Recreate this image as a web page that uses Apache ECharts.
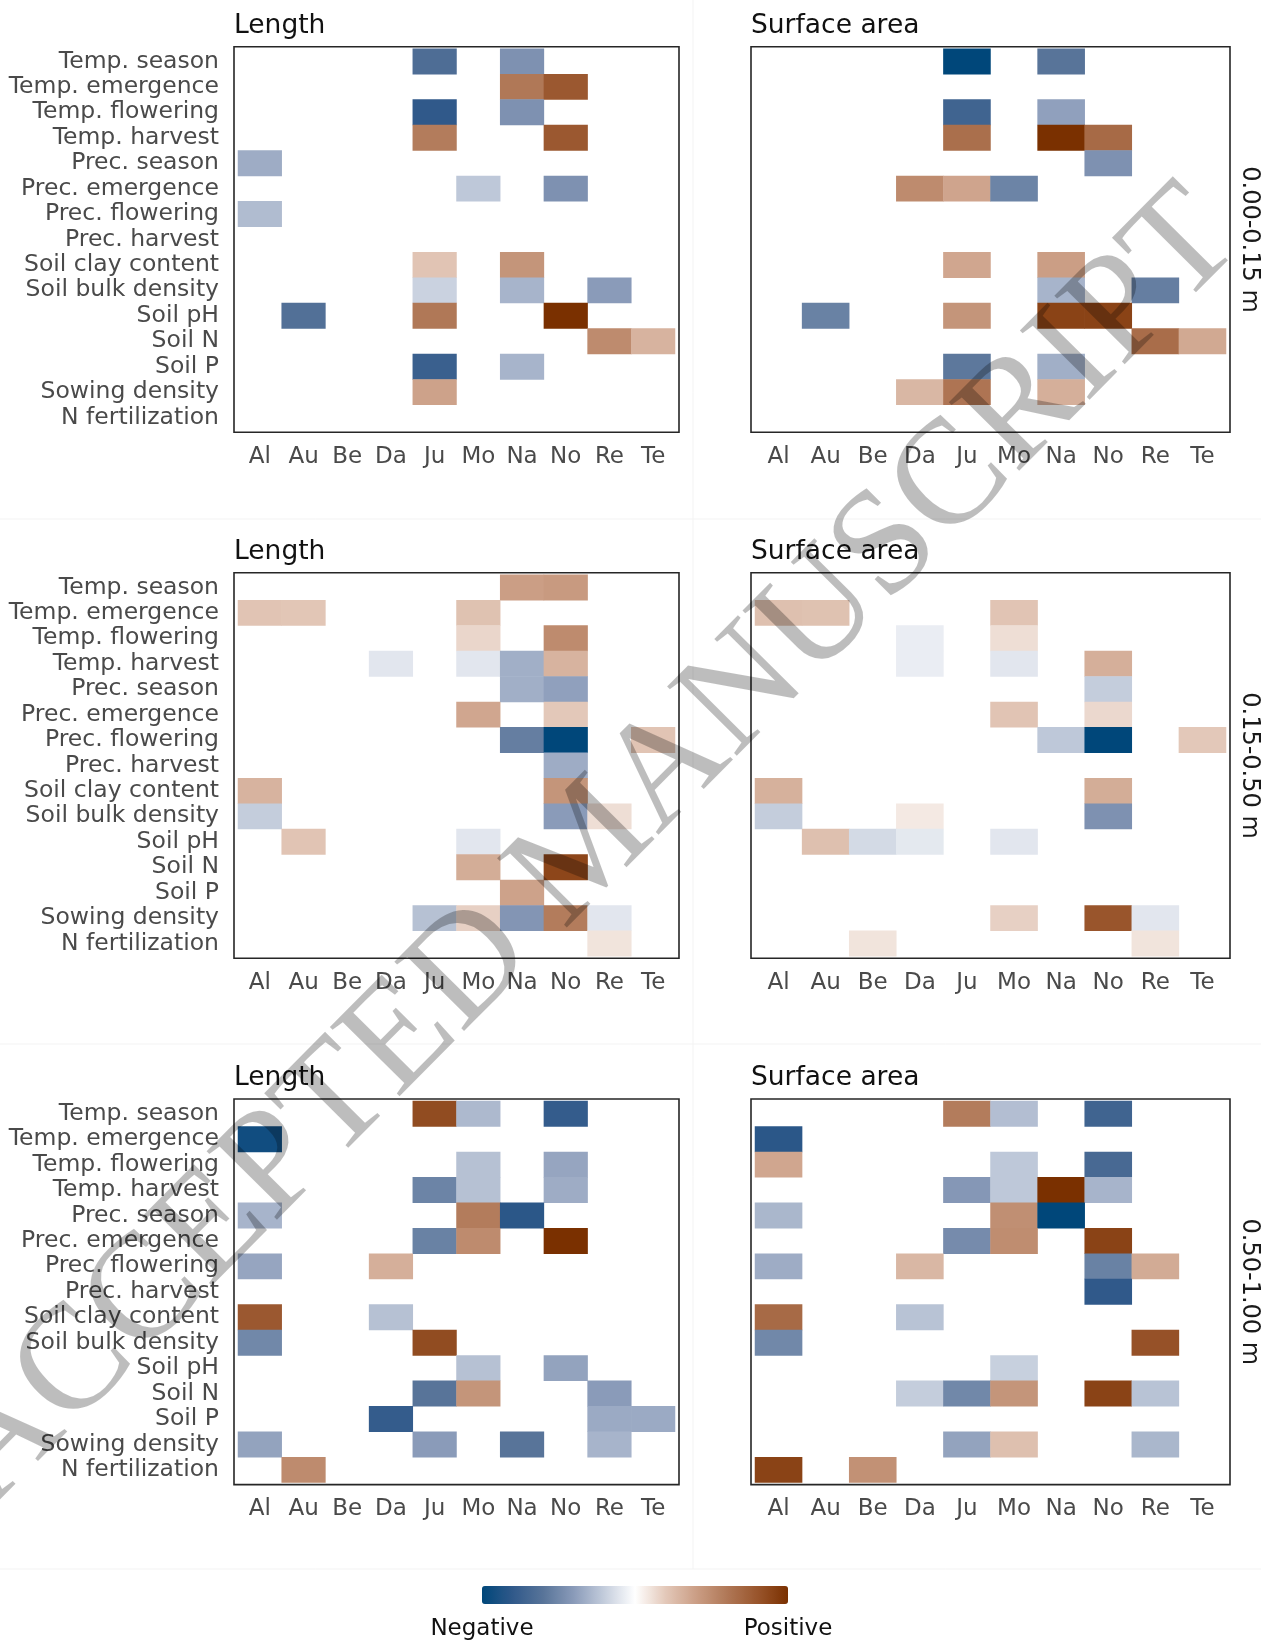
<!DOCTYPE html>
<html>
<head>
<meta charset="utf-8">
<script src="https://cdn.jsdelivr.net/npm/echarts@6/dist/echarts.min.js"></script>
<style>
  html, body { margin: 0; padding: 0; background: #ffffff; }
  #chart { width: 1261px; height: 1642px; }
</style>
</head>
<body>
<div id="chart"></div>
<script>
// Sites (columns) and predictors (rows) shared by every panel
const sites = ['Al', 'Au', 'Be', 'Da', 'Ju', 'Mo', 'Na', 'No', 'Re', 'Te'];
const predictors = [
  'Temp. season', 'Temp. emergence', 'Temp. flowering', 'Temp. harvest',
  'Prec. season', 'Prec. emergence', 'Prec. flowering', 'Prec. harvest',
  'Soil clay content', 'Soil bulk density', 'Soil pH', 'Soil N', 'Soil P',
  'Sowing density', 'N fertilization'
];
const traits = ['Length', 'Surface area'];
const depths = ['0.00-0.15 m', '0.15-0.50 m', '0.50-1.00 m'];
const legendLabels = ['Negative', 'Positive'];

// Standardised effects, [predictor, site, effect]; empty cells are omitted
const lengthTop = [
  ['Temp. season', 'Ju', -0.65], ['Temp. season', 'Na', -0.45],
  ['Temp. emergence', 'Na', 0.6], ['Temp. emergence', 'No', 0.78],
  ['Temp. flowering', 'Ju', -0.8], ['Temp. flowering', 'Na', -0.45],
  ['Temp. harvest', 'Ju', 0.58], ['Temp. harvest', 'No', 0.78],
  ['Prec. season', 'Al', -0.33],
  ['Prec. emergence', 'Mo', -0.22], ['Prec. emergence', 'No', -0.45],
  ['Prec. flowering', 'Al', -0.27],
  ['Soil clay content', 'Ju', 0.22], ['Soil clay content', 'Na', 0.45],
  ['Soil bulk density', 'Ju', -0.18], ['Soil bulk density', 'Na', -0.3], ['Soil bulk density', 'Re', -0.4],
  ['Soil pH', 'Au', -0.63], ['Soil pH', 'Ju', 0.6], ['Soil pH', 'No', 1.0],
  ['Soil N', 'Re', 0.5], ['Soil N', 'Te', 0.3],
  ['Soil P', 'Ju', -0.75], ['Soil P', 'Na', -0.3],
  ['Sowing density', 'Ju', 0.38]
];
const surfaceTop = [
  ['Temp. season', 'Ju', -1.0], ['Temp. season', 'Na', -0.6],
  ['Temp. flowering', 'Ju', -0.72], ['Temp. flowering', 'Na', -0.38],
  ['Temp. harvest', 'Ju', 0.65], ['Temp. harvest', 'Na', 1.0], ['Temp. harvest', 'No', 0.68],
  ['Prec. season', 'No', -0.45],
  ['Prec. emergence', 'Da', 0.5], ['Prec. emergence', 'Ju', 0.37], ['Prec. emergence', 'Mo', -0.52],
  ['Soil clay content', 'Ju', 0.36], ['Soil clay content', 'Na', 0.4],
  ['Soil bulk density', 'Na', -0.3], ['Soil bulk density', 'Re', -0.55],
  ['Soil pH', 'Au', -0.53], ['Soil pH', 'Ju', 0.45], ['Soil pH', 'Na', 0.9], ['Soil pH', 'No', 0.9],
  ['Soil N', 'Re', 0.66], ['Soil N', 'Te', 0.35],
  ['Soil P', 'Ju', -0.58], ['Soil P', 'Na', -0.32],
  ['Sowing density', 'Da', 0.28], ['Sowing density', 'Ju', 0.62], ['Sowing density', 'Na', 0.32]
];
const lengthMid = [
  ['Temp. season', 'Na', 0.4], ['Temp. season', 'No', 0.42],
  ['Temp. emergence', 'Al', 0.22], ['Temp. emergence', 'Au', 0.21], ['Temp. emergence', 'Mo', 0.23],
  ['Temp. flowering', 'Mo', 0.15], ['Temp. flowering', 'No', 0.5],
  ['Temp. harvest', 'Da', -0.1], ['Temp. harvest', 'Mo', -0.1], ['Temp. harvest', 'Na', -0.32], ['Temp. harvest', 'No', 0.3],
  ['Prec. season', 'Na', -0.32], ['Prec. season', 'No', -0.38],
  ['Prec. emergence', 'Mo', 0.36], ['Prec. emergence', 'No', 0.2],
  ['Prec. flowering', 'Na', -0.55], ['Prec. flowering', 'No', -1.0], ['Prec. flowering', 'Te', 0.22],
  ['Prec. harvest', 'No', -0.33],
  ['Soil clay content', 'Al', 0.3], ['Soil clay content', 'No', 0.45],
  ['Soil bulk density', 'Al', -0.2], ['Soil bulk density', 'No', -0.4], ['Soil bulk density', 'Re', 0.12],
  ['Soil pH', 'Au', 0.22], ['Soil pH', 'Mo', -0.1],
  ['Soil N', 'Mo', 0.33], ['Soil N', 'No', 0.88],
  ['Soil P', 'Na', 0.38],
  ['Sowing density', 'Ju', -0.25], ['Sowing density', 'Mo', 0.17], ['Sowing density', 'Na', -0.43],
  ['Sowing density', 'No', 0.58], ['Sowing density', 'Re', -0.1],
  ['N fertilization', 'Re', 0.1]
];
const surfaceMid = [
  ['Temp. emergence', 'Al', 0.24], ['Temp. emergence', 'Au', 0.23], ['Temp. emergence', 'Mo', 0.22],
  ['Temp. flowering', 'Da', -0.07], ['Temp. flowering', 'Mo', 0.12],
  ['Temp. harvest', 'Da', -0.07], ['Temp. harvest', 'Mo', -0.1], ['Temp. harvest', 'No', 0.32],
  ['Prec. season', 'No', -0.2],
  ['Prec. emergence', 'Mo', 0.22], ['Prec. emergence', 'No', 0.14],
  ['Prec. flowering', 'Na', -0.22], ['Prec. flowering', 'No', -1.0], ['Prec. flowering', 'Te', 0.2],
  ['Soil clay content', 'Al', 0.31], ['Soil clay content', 'No', 0.33],
  ['Soil bulk density', 'Al', -0.2], ['Soil bulk density', 'Da', 0.08], ['Soil bulk density', 'No', -0.45],
  ['Soil pH', 'Au', 0.24], ['Soil pH', 'Be', -0.15], ['Soil pH', 'Da', -0.09], ['Soil pH', 'Mo', -0.1],
  ['Sowing density', 'Mo', 0.17], ['Sowing density', 'No', 0.8], ['Sowing density', 'Re', -0.1],
  ['N fertilization', 'Be', 0.1], ['N fertilization', 'Re', 0.1]
];
const lengthDeep = [
  ['Temp. season', 'Ju', 0.85], ['Temp. season', 'Mo', -0.28], ['Temp. season', 'No', -0.78],
  ['Temp. emergence', 'Al', -0.93],
  ['Temp. flowering', 'Mo', -0.25], ['Temp. flowering', 'No', -0.36],
  ['Temp. harvest', 'Ju', -0.52], ['Temp. harvest', 'Mo', -0.25], ['Temp. harvest', 'No', -0.33],
  ['Prec. season', 'Al', -0.3], ['Prec. season', 'Mo', 0.58], ['Prec. season', 'Na', -0.82],
  ['Prec. emergence', 'Ju', -0.53], ['Prec. emergence', 'Mo', 0.5], ['Prec. emergence', 'No', 1.0],
  ['Prec. flowering', 'Al', -0.36], ['Prec. flowering', 'Da', 0.32],
  ['Soil clay content', 'Al', 0.78], ['Soil clay content', 'Da', -0.25],
  ['Soil bulk density', 'Al', -0.5], ['Soil bulk density', 'Ju', 0.85],
  ['Soil pH', 'Mo', -0.25], ['Soil pH', 'No', -0.37],
  ['Soil N', 'Ju', -0.6], ['Soil N', 'Mo', 0.45], ['Soil N', 'Re', -0.4],
  ['Soil P', 'Da', -0.78], ['Soil P', 'Re', -0.34], ['Soil P', 'Te', -0.34],
  ['Sowing density', 'Al', -0.37], ['Sowing density', 'Ju', -0.4], ['Sowing density', 'Na', -0.6], ['Sowing density', 'Re', -0.3],
  ['N fertilization', 'Au', 0.5]
];
const surfaceDeep = [
  ['Temp. season', 'Ju', 0.58], ['Temp. season', 'Mo', -0.26], ['Temp. season', 'No', -0.72],
  ['Temp. emergence', 'Al', -0.82],
  ['Temp. flowering', 'Al', 0.36], ['Temp. flowering', 'Mo', -0.22], ['Temp. flowering', 'No', -0.68],
  ['Temp. harvest', 'Ju', -0.42], ['Temp. harvest', 'Mo', -0.22], ['Temp. harvest', 'Na', 1.0], ['Temp. harvest', 'No', -0.3],
  ['Prec. season', 'Al', -0.29], ['Prec. season', 'Mo', 0.48], ['Prec. season', 'Na', -1.0],
  ['Prec. emergence', 'Ju', -0.48], ['Prec. emergence', 'Mo', 0.49], ['Prec. emergence', 'No', 0.9],
  ['Prec. flowering', 'Al', -0.33], ['Prec. flowering', 'Da', 0.28], ['Prec. flowering', 'No', -0.53], ['Prec. flowering', 'Re', 0.34],
  ['Prec. harvest', 'No', -0.8],
  ['Soil clay content', 'Al', 0.68], ['Soil clay content', 'Da', -0.24],
  ['Soil bulk density', 'Al', -0.5], ['Soil bulk density', 'Re', 0.82],
  ['Soil pH', 'Mo', -0.19],
  ['Soil N', 'Da', -0.2], ['Soil N', 'Ju', -0.5], ['Soil N', 'Mo', 0.45], ['Soil N', 'No', 0.9], ['Soil N', 'Re', -0.24],
  ['Sowing density', 'Ju', -0.37], ['Sowing density', 'Mo', 0.24], ['Sowing density', 'Re', -0.29],
  ['N fertilization', 'Al', 0.9], ['N fertilization', 'Be', 0.47]
];

// Panels in reading order: [depth row][trait column]
const panels = [
  [lengthTop, surfaceTop],
  [lengthMid, surfaceMid],
  [lengthDeep, surfaceDeep]
];

// Diverging blue-white-brown scale from -1 to 1 (stops every 0.2)
const palette = ['#00477a', '#30598a', '#587499', '#8a9bb9', '#c4cddc', '#ffffff',
                 '#e3c8b9', '#cb9e85', '#b07857', '#99552c', '#7a3000'];

// ---- layout ----
const FONT = '"DejaVu Sans", sans-serif';
const colFrame = [{ x: 234, w: 445 }, { x: 751, w: 479 }];
const rowFrame = [46.7, 572.7, 1099];
const FRAME_H = 385.6;
const INSET_X = 4, INSET_Y = 2;

const grids = [], xAxes = [], yAxes = [], series = [], graphics = [];

panels.forEach((row, r) => {
  row.forEach((cells, c) => {
    const i = grids.length;
    const fx = colFrame[c].x, fw = colFrame[c].w, fy = rowFrame[r];
    grids.push({
      left: fx + INSET_X, top: fy + INSET_Y,
      width: fw - 2 * INSET_X, height: FRAME_H - 2 * INSET_Y,
      containLabel: false
    });
    xAxes.push({
      type: 'category', gridIndex: i, data: sites,
      axisLine: { show: false }, axisTick: { show: false }, splitLine: { show: false },
      axisLabel: { interval: 0, fontSize: 23, fontFamily: FONT, color: '#4a4a4a', margin: 15 }
    });
    yAxes.push({
      type: 'category', gridIndex: i, data: predictors, inverse: true,
      axisLine: { show: false }, axisTick: { show: false }, splitLine: { show: false },
      axisLabel: { show: c === 0, interval: 0, fontSize: 23.5, fontFamily: FONT, color: '#4a4a4a', margin: 19 }
    });
    series.push({
      type: 'heatmap', xAxisIndex: i, yAxisIndex: i,
      data: cells.map(([p, s, v]) => [sites.indexOf(s), predictors.indexOf(p), v]),
      itemStyle: { borderWidth: 0 },
      emphasis: { disabled: true },
      progressive: 0, animation: false
    });
    // panel frame
    graphics.push({
      type: 'rect', z: 50, silent: true,
      shape: { x: fx, y: fy, width: fw, height: FRAME_H },
      style: { fill: 'none', stroke: '#262626', lineWidth: 1.6 }
    });
    // panel title
    graphics.push({
      type: 'text', z: 50, x: fx, y: fy - 21,
      style: { text: traits[c], fontSize: 26.5, fontFamily: FONT, fill: '#111111',
               align: 'left', verticalAlign: 'middle' }
    });
  });
  // depth strip label on the right
  graphics.push({
    type: 'text', z: 50, x: 1249, y: rowFrame[r] + FRAME_H / 2, rotation: -Math.PI / 2,
    style: { text: depths[r], fontSize: 24, fontFamily: FONT, fill: '#1a1a1a',
             align: 'center', verticalAlign: 'middle' }
  });
});

// faint borders between the assembled sub-figures
[519, 1044, 1569].forEach(y => graphics.push({
  type: 'line', z: 1, silent: true,
  shape: { x1: 0, y1: y, x2: 1261, y2: y },
  style: { stroke: '#f3f3f3', lineWidth: 1 }
}));
graphics.push({
  type: 'line', z: 1, silent: true,
  shape: { x1: 693, y1: 0, x2: 693, y2: 1569 },
  style: { stroke: '#f3f3f3', lineWidth: 1 }
});

// colour bar end labels
const BAR_L = 482, BAR_LEN = 306, BAR_T = 1586;
graphics.push({
  type: 'text', z: 50, x: BAR_L, y: 1629,
  style: { text: legendLabels[0], fontSize: 23, fontFamily: FONT, fill: '#111111', align: 'center', verticalAlign: 'middle' }
});
graphics.push({
  type: 'text', z: 50, x: BAR_L + BAR_LEN, y: 1629,
  style: { text: legendLabels[1], fontSize: 23, fontFamily: FONT, fill: '#111111', align: 'center', verticalAlign: 'middle' }
});

// translucent manuscript stamp across the figure
graphics.push({
  type: 'text', z: 200, silent: true, x: 590, y: 848, rotation: 0.79,
  style: {
    text: 'ACCEPTED MANUSCRIPT', fontSize: 150, fontFamily: '"Liberation Serif", serif',
    fill: 'rgba(0,0,0,0.26)', align: 'center', verticalAlign: 'middle'
  }
});

const chart = echarts.init(document.getElementById('chart'), null, { renderer: 'canvas' });
chart.setOption({
  animation: false,
  backgroundColor: '#ffffff',
  grid: grids,
  xAxis: xAxes,
  yAxis: yAxes,
  visualMap: {
    type: 'continuous', min: -1, max: 1, dimension: 2,
    seriesIndex: series.map((_, k) => k),
    calculable: false, orient: 'horizontal',
    left: BAR_L, top: BAR_T, padding: 0,
    itemWidth: 18, itemHeight: BAR_LEN,
    text: null, showLabel: false,
    inRange: { color: palette }
  },
  series: series,
  graphic: { elements: graphics }
});
</script>
</body>
</html>
